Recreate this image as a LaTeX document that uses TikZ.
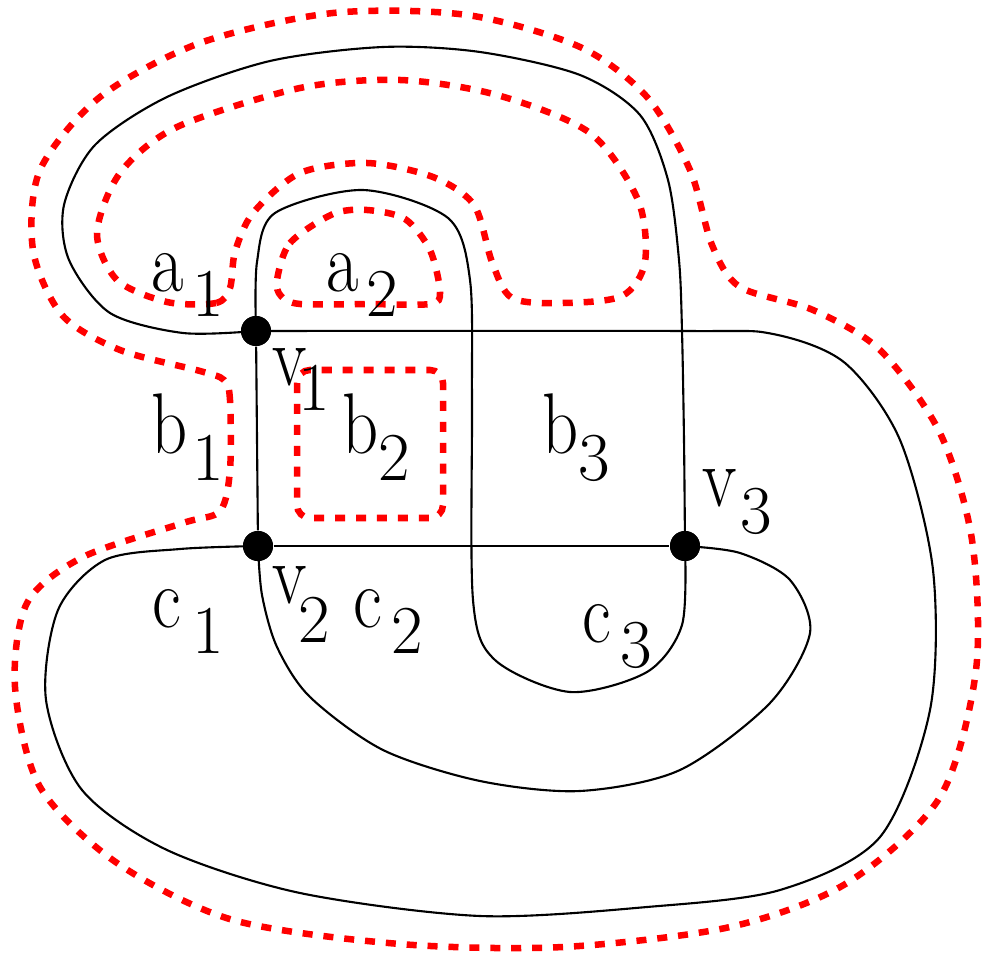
\documentclass[tikz,border=0pt]{standalone}
\newcommand\narrowtxt[1]{\scalebox{0.82}[1]{#1}}
\begin{document}
\begin{tikzpicture}[x=0.01cm,y=-0.01cm]
\tikzset{
  edge/.style={line width=0.6pt, black},
  vertex/.style={circle, fill=black, inner sep=0pt, minimum size=0.3cm},
  redloop/.style={red, line width=1.85pt, dash pattern=on 2.85pt off 3.1pt},
  lbl/.style={font=\fontsize{24.5}{24.5}\selectfont, inner sep=0pt, anchor=base west},
  lblsub/.style={font=\fontsize{19.5}{19.5}\selectfont, inner sep=0pt, anchor=base west},
}
\useasboundingbox (0,0) rectangle (982,958);

% vertices
\node[vertex] (v1) at (256,331) {};
\node[vertex] (v2) at (258,546) {};
\node[vertex] (v3) at (685,546) {};

% red dashed loops
\draw[redloop] plot[smooth cycle] coordinates {
 (230,470) (230,400) (224,380) (200,371) (120,350) (62,315) (33,250) (40,170) (100,97) (200,43)
 (333,13) (467,15) (580,47) (647,97) (690,170) (712,245) (740,287) (813,310) (880,350) (940,433)
 (972,540) (976,670) (940,797) (847,883) (730,927) (563,947) (400,944) (233,920) (117,863) (40,787)
 (15,687) (27,603) (83,557) (183,523) (220,511)};

\draw[redloop] plot[smooth cycle] coordinates {
 (230,288) (216,303) (167,302) (117,280) (97,233) (120,173) (177,127) (300,88) (400,80) (497,95)
 (590,133) (638,200) (645,262) (622,296) (563,303) (512,298) (492,262) (474,205) (433,177) (367,163)
 (300,173) (253,213) (235,252)};

\draw[redloop] plot[smooth cycle] coordinates {
 (277,280) (290,243) (333,214) (367,210) (405,219) (430,250) (440,292)
 (430,304) (367,304) (300,304) (281,296)};

\draw[redloop, rounded corners=0.13cm] (297,370) rectangle (443,518);

% black edges
\draw[edge] (v1) -- (v2);
\draw[edge] (v2) -- (v3);
\draw[edge] plot[smooth] coordinates {
 (v1) (183,333) (110,313) (69,260) (64,205) (95,145) (167,97) (270,61) (383,47) (480,52)
 (580,75) (640,115) (668,180) (679,260) (682,331) (684,440) (v3)};
\draw[edge] plot[smooth] coordinates {
 (v1) (257,262) (275,213) (363,190) (448,218) (470,280) (472,400) (473,600) (495,660) (570,692)
 (647,672) (682,625) (v3)};
\draw[edge] plot[smooth] coordinates {
 (v1) (682,331) (773,334) (845,363) (900,440) (933,570) (930,710) (880,837) (780,890) (647,907)
 (480,916) (300,893) (167,850) (82,790) (46,700) (58,610) (105,560) (180,549) (v2)};
\draw[edge] plot[smooth] coordinates {
 (v2) (262,595) (277,647) (310,697) (383,750) (480,781) (580,791) (680,770) (770,703) (810,633) (790,580)
 (740,553) (v3)};

% redraw vertices on top
\node[vertex] at (v1) {};
\node[vertex] at (v2) {};
\node[vertex] at (v3) {};

% labels
\node[lbl] (a1l) at (151,292) {\narrowtxt{a}};   \node[lblsub] (a1s) at (192,317) {1};
\node[lbl] (a2l) at (326,292) {\narrowtxt{a}};   \node[lblsub] (a2s) at (366,317) {2};
\node[lbl] (v1l) at (272,386) {\narrowtxt{v}};   \node[lblsub] (v1s) at (298,410) {1};
\node[lbl] (b1l) at (151,453) {\narrowtxt{b}};   \node[lblsub] (b1s) at (192,480) {1};
\node[lbl] (b2l) at (342,453) {\narrowtxt{b}};   \node[lblsub] (b2s) at (378,480) {2};
\node[lbl] (b3l) at (542,453) {\narrowtxt{b}};   \node[lblsub] (b3s) at (578,480) {3};
\node[lbl] (v3l) at (702,506) {\narrowtxt{v}};   \node[lblsub] (v3s) at (740,533) {3};
\node[lbl] (v2l) at (272,603) {\narrowtxt{v}};   \node[lblsub] (v2s) at (298,642) {2};
\node[lbl] (c1l) at (152,627) {\narrowtxt{c}};   \node[lblsub] (c1s) at (192,653) {1};
\node[lbl] (c2l) at (353,627) {\narrowtxt{c}};   \node[lblsub] (c2s) at (391,653) {2};
\node[lbl] (c3l) at (582,642) {\narrowtxt{c}};   \node[lblsub] (c3s) at (620,667) {3};
\end{tikzpicture}
\end{document}
